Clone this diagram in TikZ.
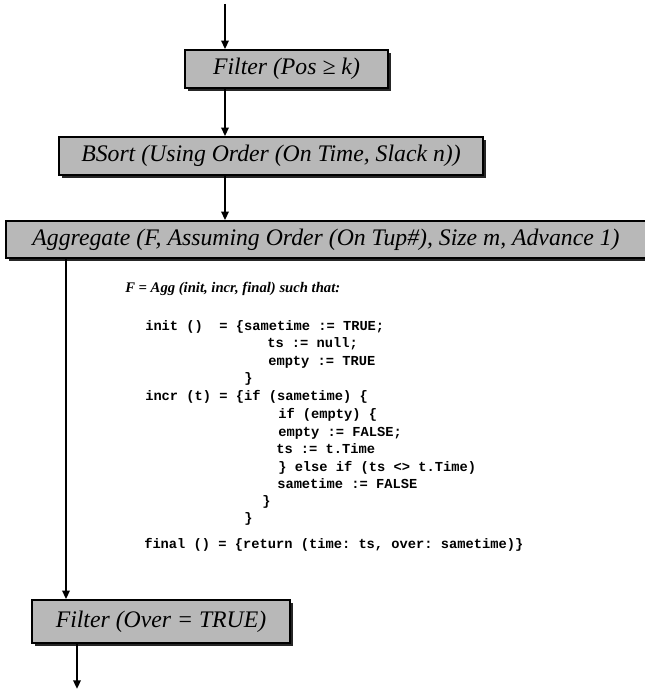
\documentclass[tikz,border=0pt]{standalone}
\usepackage{fontspec}
\setmainfont{Liberation Serif}
\setmonofont{Liberation Mono}
\usetikzlibrary{arrows.meta,shadows}
\definecolor{boxgray}{RGB}{184,184,184}
\tikzset{
  opbox/.style={draw=black, line width=1.2pt, fill=boxgray, inner sep=0pt,
    font=\fontsize{17.8}{20}\selectfont\itshape,
    drop shadow={shadow xshift=2.2pt, shadow yshift=-2.2pt, fill=black!85, opacity=1}},
  flow/.style={line width=1.6pt, -{Triangle[length=6.5pt,width=5.5pt]}},
  codeline/.style={anchor=base west, inner sep=0pt,
    font=\fontsize{10.3}{12}\selectfont\ttfamily\bfseries},
  heading/.style={anchor=base west, inner sep=0pt,
    font=\fontsize{11}{12}\selectfont\bfseries\itshape}
}
\begin{document}
\begin{tikzpicture}[x=0.75pt, y=-0.75pt]
\useasboundingbox (0,0) rectangle (645,692);
\clip (0,0) rectangle (645,692);

% operator boxes
\node[opbox, minimum width=203*0.75pt, minimum height=38*0.75pt] (f1) at (286.5,69) {Filter (Pos ≥ k)};
\node[opbox, minimum width=424*0.75pt, minimum height=38*0.75pt] (bs) at (271,156) {BSort (Using Order (On Time, Slack n))};
\node[opbox, minimum width=640*0.75pt, minimum height=37*0.75pt] (agg) at (326,239.5) {Aggregate (F, Assuming Order (On Tup\#), Size m, Advance 1)};
\node[opbox, minimum width=258*0.75pt, minimum height=43*0.75pt] (f2) at (161,621.5) {Filter (Over = TRUE)};

% stream connectors
\coordinate (inflow) at (225,4);
\coordinate (leftx) at (66,0);
\coordinate (outflow) at (77,689);
\draw[flow] (inflow) -- (inflow |- f1.north);
\draw[flow] (f1.south -| inflow) -- (bs.north -| inflow);
\draw[flow] (bs.south -| inflow) -- (agg.north -| inflow);
\draw[flow] (agg.south -| leftx) -- (f2.north -| leftx);
\draw[flow] (f2.south -| outflow) -- (outflow);

% definition of the aggregate function F
\node[heading] (hd) at (125,292) {F = Agg (init, incr, final) such that:};
\node[codeline] (c1)  at (145,330) {init ()\ \ = \{sametime := TRUE;};
\node[codeline] (c2)  at (267,347) {ts := null;};
\node[codeline] (c3)  at (268,365) {empty := TRUE};
\node[codeline] (c4)  at (244,382) {\}};
\node[codeline] (c5)  at (145,400) {incr (t) = \{if (sametime) \{};
\node[codeline] (c6)  at (278,418) {if (empty) \{};
\node[codeline] (c7)  at (278,436) {empty := FALSE;};
\node[codeline] (c8)  at (276,453) {ts := t.Time};
\node[codeline] (c9)  at (278,471) {\} else if (ts <> t.Time)};
\node[codeline] (c10) at (277,488) {sametime := FALSE};
\node[codeline] (c11) at (262,505) {\}};
\node[codeline] (c12) at (244,522) {\}};
\node[codeline] (c13) at (144,548) {final () = \{return (time: ts, over: sametime)\}};
\end{tikzpicture}
\end{document}
